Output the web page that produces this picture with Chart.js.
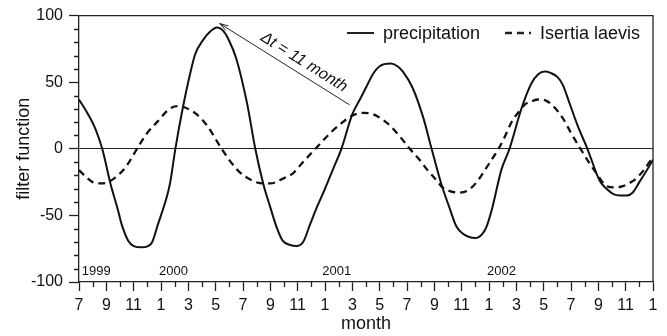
<!DOCTYPE html>
<html>
<head>
<meta charset="utf-8">
<script src="https://cdn.jsdelivr.net/npm/chart.js@4.4.1/dist/chart.umd.min.js"></script>
<style>
  html, body { margin: 0; padding: 0; background: #fff; }
  #wrap { width: 667px; height: 336px; }
</style>
</head>
<body>
<div id="wrap"><canvas id="grafico" width="667" height="336"></canvas></div>
<script>
// months counted from July 1999 (0) to January 2003 (42)
const monthTickLabels = ['7','9','11','1','3','5','7','9','11','1','3','5','7','9','11','1','3','5','7','9','11','1'];
const yearLabels = ['1999', '2000', '2001', '2002'];
const yearLabelMonths = [0.2, 5.85, 17.8, 29.85];

const precipMonths = [0, 0.66, 1.2, 1.7, 2.3, 2.85, 3.1, 3.6, 4.0, 4.6, 5.3, 5.8, 6.4, 6.66, 7.05, 7.6, 8.1, 8.5, 9.1, 9.6, 10.1, 10.6, 10.9, 11.5, 12.3, 12.9,
  13.5, 14.0, 14.5, 14.9, 15.4, 15.9, 16.4, 16.9, 17.4, 18.0, 18.6, 19.2, 20.0, 20.6, 21.1, 21.5, 22.0, 22.8, 23.3, 23.7, 24.4, 25.2, 25.8,
  26.5, 27.1, 27.6, 28.0, 28.5, 29.0, 29.5, 29.8, 30.2, 30.9, 31.5, 32.4, 33.1, 33.6, 34.1, 34.5, 35.0, 35.4, 35.9, 36.5, 37.2,
  38.1, 38.6, 39.1, 39.6, 40.1, 40.5, 41.0, 41.9, 42];
const precipValues = [37, 26, 15, 0, -26, -46, -56, -69, -73, -74, -71, -56, -37, -26, 0, 31, 55, 71, 82, 88, 91, 88, 83, 68, 34, 0,
  -27, -44, -60, -69, -72, -73, -70, -57, -44, -30, -15, 0, 26, 38, 48, 56, 62, 64, 62, 58, 46, 23, 0,
  -26, -44, -58, -63, -66, -67, -64, -59, -46, -16, 0, 31, 49, 56, 58, 57, 54, 48, 34, 17, 0,
  -24, -30, -34, -35, -35, -33, -25, -10, -8];

const isertiaMonths = [0, 0.5, 1.0, 1.5, 2.0, 2.6, 3.4, 4.3, 5.0, 5.8, 6.3, 6.8, 7.3, 7.75, 8.6, 9.4, 10.5, 11.6, 12.7, 13.5, 14.0, 15.0, 15.7, 16.3, 17.3,
  18.5, 19.3, 20.0, 20.8, 21.5, 22.2, 22.8, 23.5, 24.2, 24.9, 25.5, 26.1, 26.6, 27.2, 27.8, 28.5, 29.1, 29.7, 30.2, 30.7,
  31.2, 31.7, 32.2, 32.6, 33.2, 33.6, 34.2, 34.8, 35.4, 36.0, 36.7, 37.3, 37.9, 38.6, 39.2, 39.8, 40.4, 40.8, 41.4, 42];
const isertiaValues = [-16, -21, -25, -26, -25.5, -22, -14, 1, 12, 21, 27, 31, 32, 31, 26, 17, -1, -16, -24, -26, -26, -22, -18, -11, 0,
  13, 20, 25, 27, 26, 22, 17, 9, 0, -8, -16, -23, -29, -32, -33, -31, -25, -16, -8, 0,
  10, 21, 28, 33, 36, 37, 36, 31, 23, 12, 0, -10, -19, -28, -29, -28, -25, -22, -15, -6];

// arrow annotation: tip and tail in data units
const arrowTip = { x: 10.3, y: 94 };
const arrowTail = { x: 19.8, y: 33 };
const arrowText = 'Δt = 11 month';

const FONT = '"Liberation Sans", Arial, Helvetica, sans-serif';
Chart.defaults.font.family = FONT;
Chart.defaults.color = '#111';

function toPoints(xs, ys) {
  return xs.map((x, i) => ({ x: x, y: ys[i] }));
}

const extras = {
  id: 'extras',
  afterDraw(chart) {
    const ctx = chart.ctx;
    const xs = chart.scales.x, ys = chart.scales.y;
    const a = chart.chartArea;
    ctx.save();
    ctx.strokeStyle = '#222';
    ctx.lineWidth = 1.3;

    // top and right frame
    ctx.beginPath();
    ctx.moveTo(a.left, a.top);
    ctx.lineTo(a.right, a.top);
    ctx.lineTo(a.right, a.bottom);
    ctx.stroke();

    // minor ticks
    ctx.beginPath();
    for (let m = 1; m < 42; m += 2) {
      const px = Math.round(xs.getPixelForValue(m)) + 0.5;
      ctx.moveTo(px, a.bottom);
      ctx.lineTo(px, a.bottom + 5);
    }
    for (let v = -90; v < 100; v += 10) {
      if (v % 50 === 0) continue;
      const py = Math.round(ys.getPixelForValue(v)) + 0.5;
      ctx.moveTo(a.left - 5, py);
      ctx.lineTo(a.left, py);
    }
    ctx.stroke();

    // year labels
    ctx.fillStyle = '#111';
    ctx.font = '13px ' + FONT;
    ctx.textAlign = 'left';
    ctx.textBaseline = 'middle';
    yearLabels.forEach((lab, i) => {
      ctx.fillText(lab, xs.getPixelForValue(yearLabelMonths[i]), ys.getPixelForValue(-92));
    });

    // arrow
    const x1 = xs.getPixelForValue(arrowTail.x), y1 = ys.getPixelForValue(arrowTail.y);
    const x2 = xs.getPixelForValue(arrowTip.x), y2 = ys.getPixelForValue(arrowTip.y);
    const ang = Math.atan2(y2 - y1, x2 - x1);
    ctx.lineWidth = 1;
    ctx.beginPath();
    ctx.moveTo(x1, y1);
    ctx.lineTo(x2, y2);
    ctx.moveTo(x2, y2);
    ctx.lineTo(x2 - 9 * Math.cos(ang - 0.3), y2 - 9 * Math.sin(ang - 0.3));
    ctx.moveTo(x2, y2);
    ctx.lineTo(x2 - 9 * Math.cos(ang + 0.3), y2 - 9 * Math.sin(ang + 0.3));
    ctx.stroke();

    // arrow text, along the line
    const t = 0.6;
    const mx = x2 + (x1 - x2) * t, my = y2 + (y1 - y2) * t;
    const rot = Math.atan2(y1 - y2, x1 - x2);
    ctx.translate(mx + 12 * Math.sin(rot), my - 12 * Math.cos(rot));
    ctx.rotate(rot);
    ctx.font = 'italic 16px ' + FONT;
    ctx.textAlign = 'center';
    ctx.fillText(arrowText, 0, 0);
    ctx.setTransform(1, 0, 0, 1, 0, 0);

    // legend inside the plot
    const ly = 33;
    const items = [{ x0: 347, x1: 374, tx: 383 }, { x0: 505, x1: 531, tx: 540 }];
    ctx.font = '18px ' + FONT;
    ctx.textAlign = 'left';
    chart.data.datasets.forEach((ds, i) => {
      const it = items[i];
      ctx.beginPath();
      ctx.lineWidth = ds.borderWidth;
      ctx.setLineDash(ds.borderDash || []);
      ctx.moveTo(it.x0, ly);
      ctx.lineTo(it.x1, ly);
      ctx.stroke();
      ctx.setLineDash([]);
      ctx.fillText(ds.label, it.tx, ly + 1);
    });
    ctx.restore();
  }
};

new Chart(document.getElementById('grafico'), {
  type: 'line',
  data: {
    datasets: [{
      label: 'precipitation',
      data: toPoints(precipMonths, precipValues),
      borderColor: '#111',
      borderWidth: 2,
      pointRadius: 0,
      cubicInterpolationMode: 'monotone',
      fill: false
    }, {
      label: 'Isertia laevis',
      data: toPoints(isertiaMonths, isertiaValues),
      borderColor: '#111',
      borderWidth: 2.3,
      borderDash: [7, 5],
      pointRadius: 0,
      cubicInterpolationMode: 'monotone',
      fill: false
    }]
  },
  options: {
    responsive: false,
    animation: false,
    layout: { padding: { top: 15, right: 14, left: 0, bottom: 0 } },
    plugins: { legend: { display: false }, tooltip: { enabled: false } },
    scales: {
      x: {
        type: 'linear',
        min: 0,
        max: 42,
        afterFit: s => { s.height = 54; },
        border: { display: true, color: '#222', width: 1.3 },
        grid: { drawOnChartArea: false, tickLength: 9, tickColor: '#222', tickWidth: 1.3 },
        ticks: {
          stepSize: 2,
          autoSkip: false,
          maxRotation: 0,
          padding: 5,
          font: { size: 16 },
          callback: v => monthTickLabels[Math.round(v / 2)]
        },
        title: { display: true, text: 'month', font: { size: 18 }, padding: { top: 0, bottom: 1 } }
      },
      y: {
        min: -100,
        max: 100,
        afterFit: s => { s.width = 79; },
        border: { display: true, color: '#222', width: 1.3 },
        grid: {
          drawOnChartArea: true,
          tickLength: 10,
          tickColor: '#222',
          tickWidth: 1.3,
          lineWidth: 1,
          color: c => (c.tick && c.tick.value === 0) ? '#222' : 'rgba(0,0,0,0)'
        },
        ticks: { stepSize: 50, padding: 6, font: { size: 16 } },
        title: { display: true, text: 'filter function', font: { size: 18 }, padding: { top: 13, bottom: 0 } }
      }
    }
  },
  plugins: [extras]
});
</script>
</body>
</html>
